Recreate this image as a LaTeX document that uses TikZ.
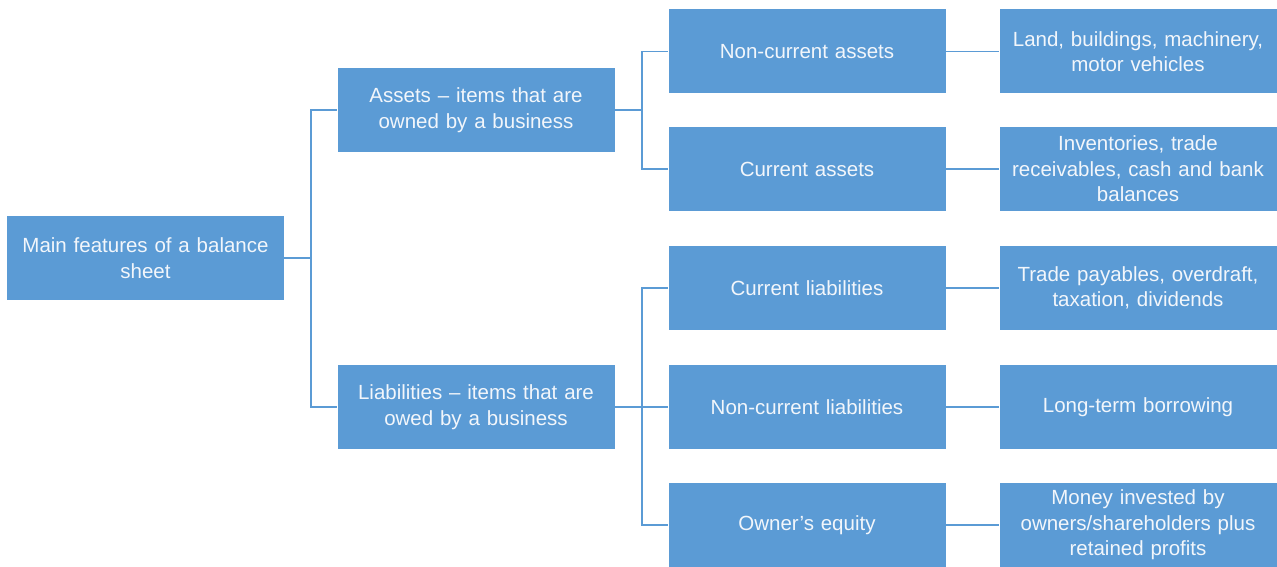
\documentclass[tikz,border=0pt]{standalone}
\usepackage{fontspec}
\setmainfont{Liberation Sans}
\usepackage{tikz}
\usetikzlibrary{calc}
\usetikzlibrary{positioning}
\definecolor{boxblue}{HTML}{5B9BD5}
\definecolor{boxtext}{HTML}{F2F6FB}

\tikzset{
  item/.style={fill=boxblue,draw=none,minimum width=277pt,minimum height=84pt,
    text width=265pt,align=center,inner sep=0pt,text=boxtext,
    font=\fontsize{20.5}{25.5}\selectfont},
  link/.style={draw=boxblue,line width=1.6pt}
}

\begin{document}
\begin{tikzpicture}[x=1pt,y=-1pt]
\useasboundingbox (0,0) rectangle (1277,567);
% root and first level
\draw (145.5,258) node[item](root){Main features of a balance\\sheet};
\draw (476,110) node[item](assets){Assets -- items that are\\owned by a business};
\draw (476,407) node[item](liab){Liabilities -- items that are\\owed by a business};
% second level
\draw (807,51.5) node[item](nca){Non-current assets};
\draw (807,169) node[item](ca){Current assets};
\draw (807,288) node[item](cl){Current liabilities};
\draw (807,407) node[item](ncl){Non-current liabilities};
\draw (807,525) node[item](oe){Owner’s equity};
% third level
\draw (1138,51.5) node[item](land){Land, buildings, machinery,\\motor vehicles};
\draw (1138,169) node[item](inv){Inventories, trade\\receivables, cash and bank\\balances};
\draw (1138,288) node[item](pay){Trade payables, overdraft,\\taxation, dividends};
\draw (1138,407) node[item](borrow){Long-term borrowing};
\draw (1138,525) node[item](money){Money invested by\\owners/shareholders plus\\retained profits};
% connectors
\draw[link] (root.east) -- ++(27,0) coordinate (jroot);
\draw[link] (jroot) |- (assets.west);
\draw[link] (jroot) |- (liab.west);
\draw[link] (assets.east) -- ++(27.5,0) coordinate (jassets);
\draw[link] (jassets) |- (nca.west);
\draw[link] (jassets) |- (ca.west);
\draw[link] (liab.east) -- ++(27.5,0) coordinate (jliab);
\draw[link] (jliab) |- (cl.west);
\draw[link] (jliab) |- (ncl.west);
\draw[link] (jliab) |- (oe.west);
\draw[link] (nca) -- (land);
\draw[link] (ca) -- (inv);
\draw[link] (cl) -- (pay);
\draw[link] (ncl) -- (borrow);
\draw[link] (oe) -- (money);
\end{tikzpicture}
\end{document}
